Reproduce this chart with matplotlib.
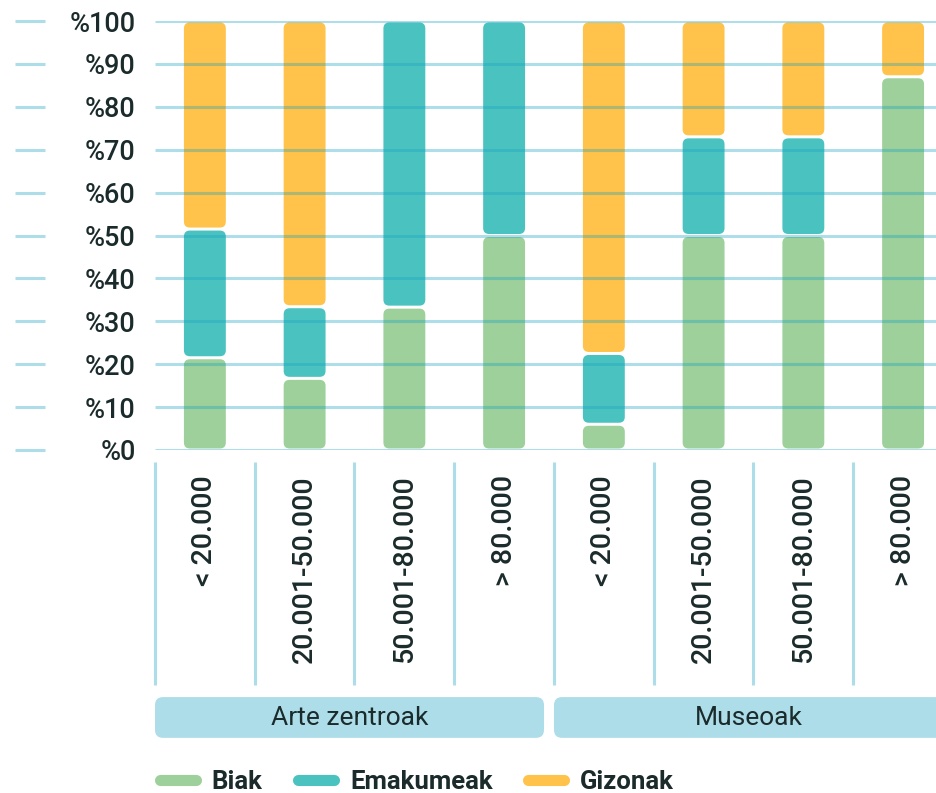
# Stacked percentage bars: Arte zentroak / Museoak by size band

import numpy as np
import matplotlib.pyplot as plt
from matplotlib.patches import FancyBboxPatch
from matplotlib.lines import Line2D

plt.rcParams['font.family'] = ['Roboto', 'DejaVu Sans']

categories = ['< 20.000', '20.001-50.000', '50.001-80.000', '> 80.000',
              '< 20.000', '20.001-50.000', '50.001-80.000', '> 80.000']
groups = ['Arte zentroak', 'Museoak']
series = ['Biak', 'Emakumeak', 'Gizonak']
biak = [21.5, 16.7, 33.3, 50, 6, 50, 50, 87]
emakumeak = [30, 16.7, 66.7, 50, 16.5, 23, 23, 0]
gizonak = [48.5, 66.6, 0, 0, 77.5, 27, 27, 13]
yticks = [0, 10, 20, 30, 40, 50, 60, 70, 80, 90, 100]

colors = ['#9dd09a', '#4ac3c0', '#ffc24a']
light_blue = '#addde9'
text_col = '#1b2b2b'

fig = plt.figure(figsize=(9.37, 7.93), dpi=100)
ax = fig.add_axes([155 / 937, 1 - 450 / 793, 782 / 937, 429 / 793])
ax.set_xlim(-0.5, 7.34)
ax.set_ylim(0, 100)

x = np.arange(len(categories))
bottom = np.zeros(len(categories))
gap = 0.35
for vals, color in zip([biak, emakumeak, gizonak], colors):
    bars = ax.bar(x, vals, 0.42, bottom=bottom, visible=False)
    for b in bars:
        if b.get_height() <= 0:
            continue
        p = FancyBboxPatch((b.get_x(), b.get_y() + gap), b.get_width(),
                           b.get_height() - 2 * gap,
                           boxstyle='round,pad=0,rounding_size=0.06',
                           mutation_aspect=23, fc=color, ec='none',
                           zorder=2, clip_on=False)
        ax.add_patch(p)
    bottom += np.array(vals)

# grid lines over the bars (darken where they cross)
ax.hlines(yticks, -0.5, 7.5, color=(0.09, 0.63, 0.77), alpha=0.35, lw=2.2, zorder=3)
ax.hlines(yticks, -0.179, -0.141, transform=ax.get_yaxis_transform(),
          clip_on=False, color=light_blue, lw=2.2)

ax.set_yticks(yticks, ['%{}'.format(v) for v in yticks])
ax.tick_params(axis='y', length=0, pad=14, labelsize=19.5, labelcolor=text_col)
for lab in ax.get_yticklabels():
    lab.set_fontweight('medium')
ax.set_xticks([])
for s in ax.spines.values():
    s.set_visible(False)

# category separators and rotated labels
xt = ax.get_xaxis_transform()
ax.vlines(np.arange(len(categories) + 1) - 0.5, -0.548, -0.028, transform=xt,
          clip_on=False, color=light_blue, lw=2.2)
for i, c in enumerate(categories):
    ax.text(i, -0.058, c, transform=xt, rotation=90, ha='center', va='top',
            fontsize=20.5, color=text_col, fontweight='medium')

# group boxes
for g, name in enumerate(groups):
    x0 = 4 * g - 0.5
    x1 = 4 * g + 3.4
    box = FancyBboxPatch((x0, -0.671), x1 - x0, 0.095,
                         boxstyle='round,pad=0,rounding_size=0.08',
                         mutation_aspect=0.233, transform=xt, clip_on=False,
                         fc=light_blue, ec='none')
    ax.add_patch(box)
    ax.text((x0 + x1) / 2, -0.624, name, transform=xt, ha='center', va='center',
            fontsize=19, color=text_col)

handles = [Line2D([], [], color=c, lw=8, solid_capstyle='round') for c in colors]
leg = fig.legend(handles, series, loc='center', bbox_to_anchor=(417 / 937, 0.014),
                 ncol=3, frameon=False, handlelength=1.4, handletextpad=0.6,
                 columnspacing=1.4, prop={'size': 18.5, 'weight': 'bold'})
for t in leg.get_texts():
    t.set_color(text_col)

fig.savefig('out.png')
